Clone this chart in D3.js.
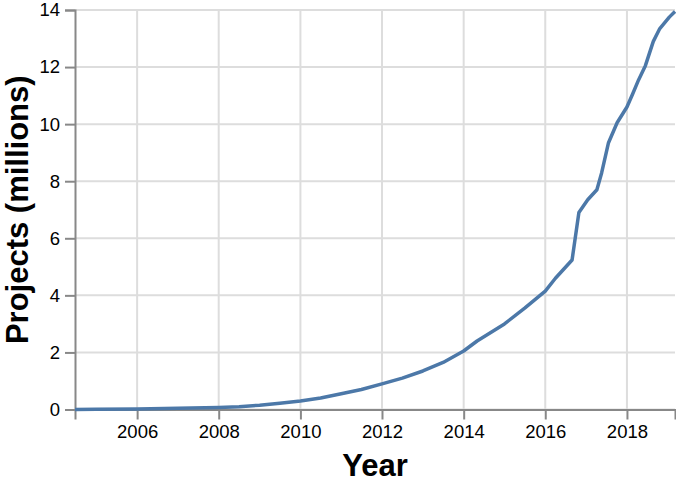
<!DOCTYPE html>
<html>
<head>
<meta charset="utf-8">
<script src="https://cdn.jsdelivr.net/npm/d3@7"></script>
<style>
body { margin: 0; background: #fff; }
text { font-family: "Liberation Sans", Arial, Helvetica, sans-serif; }
</style>
</head>
<body>
<svg id="svg" width="676" height="479"></svg>
<script>
// dates and values (millions of projects)
var dates = ["2004-06-24","2005-01-01","2006-01-01","2007-01-01","2008-01-01","2008-07-01",
 "2009-01-01","2009-07-01","2010-01-01","2010-07-01","2011-01-01","2011-07-01","2012-01-01",
 "2012-07-01","2013-01-01","2013-07-01","2014-01-01","2014-05-01","2015-01-01","2015-07-01",
 "2016-01-01","2016-04-01","2016-08-28","2016-10-28","2017-01-15","2017-04-07","2017-05-20",
 "2017-07-20","2017-10-05","2018-01-01","2018-02-20","2018-04-15","2018-06-15","2018-08-25",
 "2018-10-22","2019-01-15","2019-03-07"];
var projects = [0.0,0.005,0.02,0.04,0.07,0.1,
 0.15,0.22,0.3,0.4,0.55,0.7,0.9,
 1.1,1.35,1.65,2.05,2.4,3.0,3.55,
 4.15,4.6,5.24,6.9,7.35,7.7,8.3,
 9.35,10.05,10.6,11.05,11.55,12.05,12.9,
 13.35,13.75,13.95];
var yTicks = [0,2,4,6,8,10,12,14];

function drawChart(){
var parse = d3.timeParse("%Y-%m-%d");
var data = dates.map(function(d, i){ return {date: parse(d), value: projects[i]}; });

var mLeft = 75, mTop = 10, width = 600, height = 399.5;
var svg = d3.select("#svg");

var x = d3.scaleTime()
 .domain(d3.extent(data, function(d){ return d.date; }))
 .range([mLeft, mLeft + width]);
var y = d3.scaleLinear()
 .domain([0, 14])
 .range([mTop + height, mTop]);

var xTicks = x.ticks(d3.timeYear.every(2));

// grid
svg.append('g').selectAll('line')
 .data(xTicks).enter().append('line')
 .attr('x1', function(d){ return x(d); })
 .attr('x2', function(d){ return x(d); })
 .attr('y1', mTop)
 .attr('y2', mTop + height)
 .style('stroke', '#ddd')
 .style('stroke-width', 2);
svg.append('g').selectAll('line')
 .data(yTicks).enter().append('line')
 .attr('x1', mLeft)
 .attr('x2', mLeft + width)
 .attr('y1', function(d){ return y(d); })
 .attr('y2', function(d){ return y(d); })
 .style('stroke', '#ddd')
 .style('stroke-width', 2);

// axes
var xAxis = svg.append('g')
 .attr('transform', 'translate(0,' + (mTop + height) + ')')
 .call(d3.axisBottom(x).tickValues(xTicks).tickFormat(d3.timeFormat("%Y")).tickSize(10).tickPadding(5));
var yAxis = svg.append('g')
 .attr('transform', 'translate(' + mLeft + ',0)')
 .call(d3.axisLeft(y).tickValues(yTicks).tickSize(10).tickPadding(5));

[xAxis, yAxis].forEach(function(a){
 a.attr('font-size', null).attr('font-family', null);
 a.select('.domain').style('stroke', '#888').style('stroke-width', 2);
 a.selectAll('.tick line').style('stroke', '#888').style('stroke-width', 2);
 a.selectAll('.tick text')
  .style('font-size', '18.5px')
  .style('fill', '#000');
});

// line
var line = d3.line()
 .x(function(d){ return x(d.date); })
 .y(function(d){ return y(d.value); });
svg.append('path')
 .datum(data)
 .attr('d', line)
 .style('fill', 'none')
 .style('stroke', '#4c78a8')
 .style('stroke-width', 3.5)
 .style('stroke-linejoin', 'round');

// titles
svg.append('text')
 .attr('x', mLeft + width / 2)
 .attr('y', 476)
 .attr('text-anchor', 'middle')
 .style('font-size', '31px')
 .style('font-weight', 'bold')
 .text('Year');
svg.append('text')
 .attr('transform', 'translate(28,' + (mTop + height / 2) + ') rotate(-90)')
 .attr('text-anchor', 'middle')
 .style('font-size', '31px')
 .style('font-weight', 'bold')
 .text('Projects (millions)');
}
drawChart();
</script>
</body>
</html>
